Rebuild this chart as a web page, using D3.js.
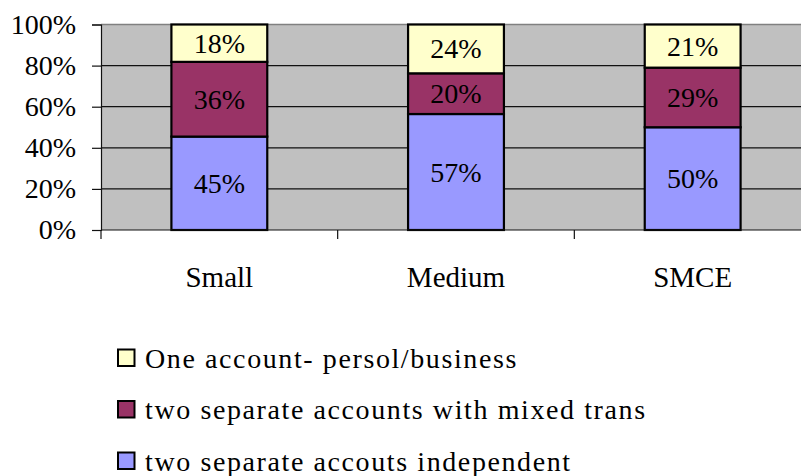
<!DOCTYPE html>
<html>
<head>
<meta charset="utf-8">
<script src="https://cdn.jsdelivr.net/npm/d3@7"></script>
<style>
  html, body { margin: 0; padding: 0; background: #fff; }
  svg { display: block; font-family: "Liberation Serif", "Times New Roman", serif; }
</style>
</head>
<body>
<svg id="chart" width="801" height="476"></svg>
<script>
// Account usage by firm size, shown as 100% stacked columns
const categories = ["Small", "Medium", "SMCE"];
const seriesNames = [
  "two separate accouts independent",
  "two separate accounts with mixed trans",
  "One account- persol/business"
];
const independent = [45, 57, 50];
const mixed = [36, 20, 29];
const oneAccount = [18, 24, 21];
const seriesColors = ["#9999FF", "#993366", "#FFFFCC"];
const yTicks = [0, 0.2, 0.4, 0.6, 0.8, 1.0];

const rows = categories.map((c, i) => ({
  cat: c,
  [seriesNames[0]]: independent[i],
  [seriesNames[1]]: mixed[i],
  [seriesNames[2]]: oneAccount[i]
}));

const stack = d3.stack().keys(seriesNames).offset(d3.stackOffsetExpand);
const layers = stack(rows);

const svg = d3.select("#chart");
const plot = { left: 101, right: 811, top: 24.5, bottom: 230 };

const x = d3.scaleBand().domain(categories)
  .range([plot.left, plot.right])
  .paddingInner(0.595).paddingOuter(0.2975);
const xTicks = d3.scaleBand().domain(categories).range([plot.left, plot.right]);
const y = d3.scaleLinear().domain([0, 1]).range([plot.bottom, plot.top]);

// plot background
svg.append("rect")
  .attr("x", plot.left).attr("y", plot.top)
  .attr("width", plot.right - plot.left).attr("height", plot.bottom - plot.top)
  .attr("fill", "#C0C0C0");
svg.append("line")
  .attr("x1", plot.left).attr("x2", plot.right)
  .attr("y1", plot.top).attr("y2", plot.top)
  .attr("stroke", "#808080").attr("stroke-width", 1.5);

// horizontal gridlines
svg.append("g").selectAll("line")
  .data(yTicks.filter(t => t > 0 && t < 1))
  .join("line")
  .attr("x1", plot.left).attr("x2", plot.right)
  .attr("y1", d => y(d)).attr("y2", d => y(d))
  .attr("stroke", "#111").attr("stroke-width", 1.2);

// y axis
const yAxis = svg.append("g")
  .attr("transform", `translate(${plot.left},0)`)
  .call(d3.axisLeft(y).tickValues(yTicks).tickFormat(d3.format(".0%")).tickSize(9).tickPadding(16));
yAxis.select(".domain").attr("stroke", "#111").attr("stroke-width", 1.2);
yAxis.selectAll(".tick line").attr("stroke", "#111").attr("stroke-width", 1.2);
yAxis.selectAll(".tick text")
  .attr("font-size", 28).attr("fill", "#000")
  .attr("font-family", "Liberation Serif, Times New Roman, serif");

// bars
const segs = svg.append("g").selectAll("g")
  .data(layers)
  .join("g")
  .attr("fill", (d, i) => seriesColors[i]);
segs.selectAll("rect")
  .data(d => d.map(p => ({ p, key: d.key })))
  .join("rect")
  .attr("x", d => x(d.p.data.cat))
  .attr("width", x.bandwidth())
  .attr("y", d => y(d.p[1]))
  .attr("height", d => y(d.p[0]) - y(d.p[1]))
  .attr("stroke", "#000").attr("stroke-width", 2.2);

// value labels
svg.append("g").selectAll("g")
  .data(layers)
  .join("g")
  .selectAll("text")
  .data(d => d.map(p => ({ p, v: p.data[d.key] })))
  .join("text")
  .attr("x", d => x(d.p.data.cat) + x.bandwidth() / 2)
  .attr("y", d => (y(d.p[0]) + y(d.p[1])) / 2)
  .attr("dy", "0.34em")
  .attr("text-anchor", "middle")
  .attr("font-size", 28)
  .attr("fill", "#000")
  .text(d => d.v + "%");

// x axis
svg.append("line")
  .attr("x1", plot.left).attr("x2", plot.right)
  .attr("y1", plot.bottom).attr("y2", plot.bottom)
  .attr("stroke", "#111").attr("stroke-width", 1.2);
const tickXs = categories.map(c => xTicks(c)).concat([plot.right]);
svg.append("g").selectAll("line")
  .data(tickXs)
  .join("line")
  .attr("x1", d => d).attr("x2", d => d)
  .attr("y1", plot.bottom).attr("y2", plot.bottom + 9)
  .attr("stroke", "#111").attr("stroke-width", 1.2);
svg.append("g").selectAll("text")
  .data(categories)
  .join("text")
  .attr("x", d => x(d) + x.bandwidth() / 2)
  .attr("y", 287)
  .attr("text-anchor", "middle")
  .attr("font-size", 29)
  .attr("fill", "#000")
  .text(d => d);

// legend (top entry is the top segment)
const legendOrder = [2, 1, 0];
const leg = svg.append("g").selectAll("g")
  .data(legendOrder)
  .join("g")
  .attr("transform", (d, i) => `translate(118, ${367.5 + i * 51.5})`);
leg.append("rect")
  .attr("x", 0).attr("y", -18)
  .attr("width", 16.5).attr("height", 16.5)
  .attr("fill", d => seriesColors[d])
  .attr("stroke", "#000").attr("stroke-width", 2);
leg.append("text")
  .attr("x", 27).attr("y", 0)
  .attr("font-size", 28)
  .attr("letter-spacing", "1.6px")
  .attr("fill", "#000")
  .text(d => seriesNames[d]);
</script>
</body>
</html>
